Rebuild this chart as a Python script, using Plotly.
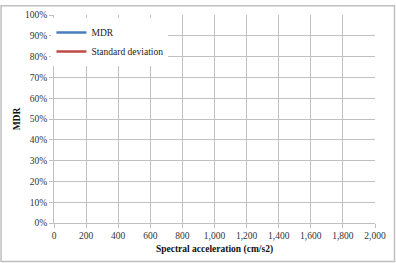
import plotly.graph_objects as go

# Data (the reference chart shows no plotted values, only legend entries)
spectral_acc = [None]      # cm/s2
mdr_values = [None]        # fraction
std_values = [None]        # fraction
series_names = ["MDR", "Standard deviation"]
series_colors = ["#4a7ebb", "#be4b48"]

x_ticks = list(range(0, 2001, 200))
y_ticks = [i / 10 for i in range(0, 11)]

fig = go.Figure()
fig.add_trace(go.Scatter(x=spectral_acc, y=mdr_values, mode="lines",
                         name=series_names[0], line=dict(color=series_colors[0], width=2.5)))
fig.add_trace(go.Scatter(x=spectral_acc, y=std_values, mode="lines",
                         name=series_names[1], line=dict(color=series_colors[1], width=2.5)))

grid = "#c0c0c0"
font_family = "'Liberation Serif', 'Times New Roman', Times, serif"

fig.update_layout(
    width=396, height=263,
    margin=dict(l=54, r=21, t=10, b=40),
    paper_bgcolor="white", plot_bgcolor="white",
    font=dict(family=font_family, size=9, color="#222"),
    showlegend=True,
    legend=dict(x=-0.008, y=0.985, xanchor="left", yanchor="top",
                bgcolor="white", borderwidth=0,
                font=dict(family=font_family, size=9.5, color="#222"),
                tracegroupgap=0),
    xaxis=dict(range=[0, 2000], tickvals=x_ticks, tickformat=",",
               showgrid=True, gridcolor=grid, gridwidth=1,
               showline=True, linecolor=grid, linewidth=1,
               ticks="outside", ticklen=4, tickcolor=grid,
               zeroline=False,
               tickfont=dict(family=font_family, size=9.5, color="#333"),
               title=dict(text="<b>Spectral acceleration (cm/s2)</b>",
                          font=dict(family=font_family, size=9.5, color="#111"),
                          standoff=4)),
    yaxis=dict(range=[0, 1], tickvals=y_ticks, tickformat=".0%",
               showgrid=True, gridcolor=grid, gridwidth=1,
               showline=True, linecolor=grid, linewidth=1,
               ticks="outside", ticklen=4, tickcolor=grid,
               zeroline=False,
               tickfont=dict(family=font_family, size=9.5, color="#333"),
               title=dict(text="<b>MDR</b>",
                          font=dict(family=font_family, size=9.5, color="#111"),
                          standoff=2)),
)

# outer chart frame
fig.add_shape(type="rect", xref="paper", yref="paper",
              x0=-0.165, x1=1.0607, y0=-0.1854, y1=1.0446,
              line=dict(color="#bfbfbf", width=1.5), layer="below")

fig.write_html("out.html")
